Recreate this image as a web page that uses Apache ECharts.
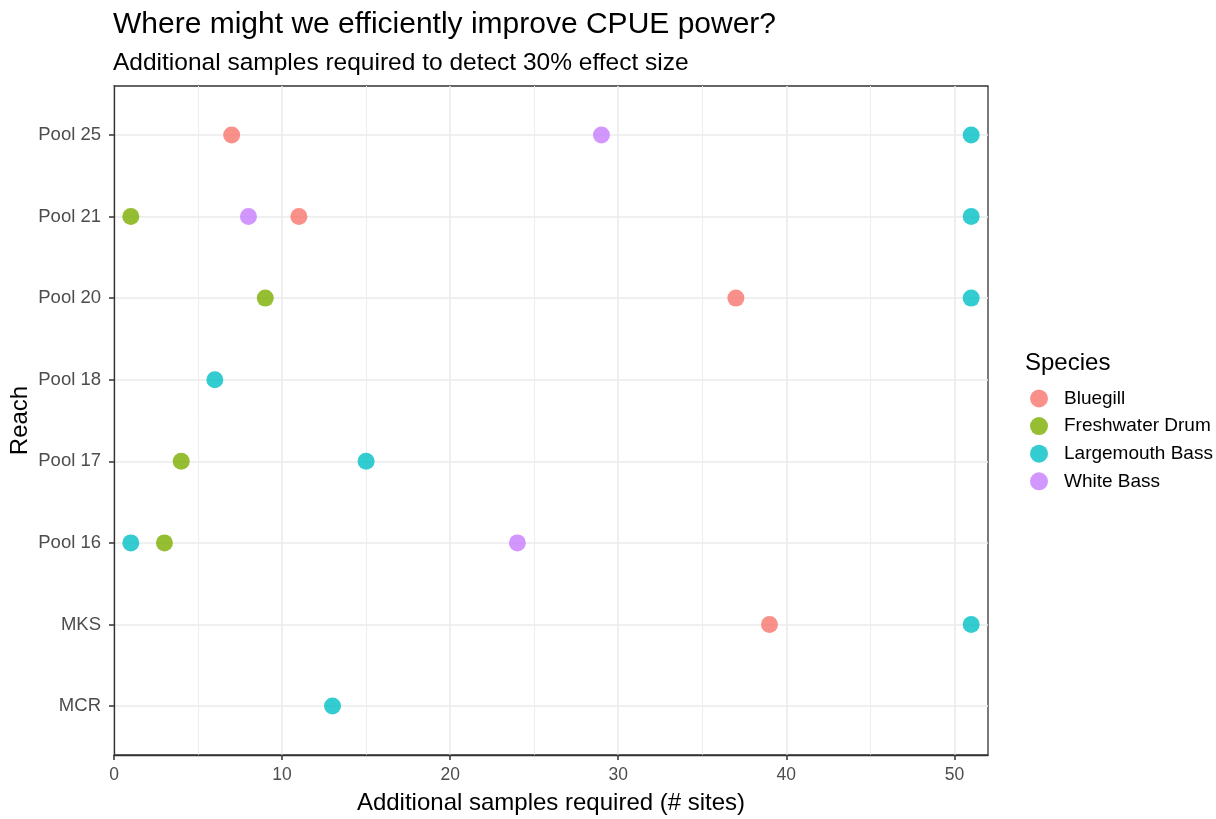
<!DOCTYPE html>
<html><head><meta charset="utf-8">
<script src="https://cdn.jsdelivr.net/npm/echarts@6/dist/echarts.min.js"></script>
<style>html,body{margin:0;padding:0;background:#fff}#c{width:1216px;height:819px}</style>
</head><body><div id="c"></div>
<script>
// Categories (bottom to top)
const reaches = ["MCR", "MKS", "Pool 16", "Pool 17", "Pool 18", "Pool 20", "Pool 21", "Pool 25"];
const species = ["Bluegill", "Freshwater Drum", "Largemouth Bass", "White Bass"];
const colors = ["#F8766D", "#7CAE00", "#00BFC4", "#C77CFF"];
// [reach, samples]
const bluegill = [["Pool 25", 7], ["Pool 21", 11], ["Pool 20", 37], ["MKS", 39]];
const freshwaterDrum = [["Pool 21", 1], ["Pool 20", 9], ["Pool 17", 4], ["Pool 16", 3]];
const largemouthBass = [["Pool 25", 51], ["Pool 21", 51], ["Pool 20", 51], ["Pool 18", 6], ["Pool 17", 15], ["Pool 16", 1], ["MKS", 51], ["MCR", 13]];
const whiteBass = [["Pool 25", 29], ["Pool 21", 8], ["Pool 16", 24]];
const xTicks = [0, 10, 20, 30, 40, 50];

const seriesData = [bluegill, freshwaterDrum, largemouthBass, whiteBass];
const yVals = reaches.map((r, i) => i + 1);
const FF = 'Liberation Sans';

const chart = echarts.init(document.getElementById('c'), null, {renderer: 'canvas'});
chart.setOption({
  backgroundColor: '#fff',
  animation: false,
  title: [
    {text: 'Where might we efficiently improve CPUE power?', left: 108, top: 5,
     textStyle: {fontFamily: FF, fontSize: 30, fontWeight: 'normal', color: '#000'}},
    {text: 'Additional samples required to detect 30% effect size', left: 108, top: 46,
     textStyle: {fontFamily: FF, fontSize: 24.5, fontWeight: 'normal', color: '#000'}},
    {text: 'Species', left: 1020, top: 346,
     textStyle: {fontFamily: FF, fontSize: 24, fontWeight: 'normal', color: '#000'}}
  ],
  legend: {
    orient: 'vertical', left: 1025, top: 384, itemWidth: 18, itemHeight: 18, itemGap: 8.6,
    icon: 'circle',
    data: species,
    itemStyle: {opacity: 0.8},
    textStyle: {fontFamily: FF, fontSize: 19, lineHeight: 18, color: '#000', padding: [0, 0, 0, 11]}
  },
  grid: {left: 114, right: 228, top: 86, bottom: 64, show: true, borderColor: '#333', borderWidth: 1.3,
         containLabel: false, outerBoundsMode: 'none'},
  xAxis: {
    type: 'value', min: 0, max: 52, interval: 10,
    name: 'Additional samples required (# sites)', nameLocation: 'middle', nameGap: 36,
    nameMoveOverlap: false,
    nameTextStyle: {fontFamily: FF, fontSize: 24, color: '#000'},
    axisLine: {show: true, lineStyle: {color: '#333', width: 1.3}},
    axisTick: {show: true, length: 5, lineStyle: {color: '#333', width: 1.5}, customValues: xTicks},
    axisLabel: {fontFamily: FF, fontSize: 17.5, color: '#4d4d4d', margin: 11, customValues: xTicks},
    splitLine: {show: true, lineStyle: {color: '#ebebeb', width: 1.6}},
    minorTick: {show: false, splitNumber: 2},
    minorSplitLine: {show: true, lineStyle: {color: '#ededed', width: 1.0}}
  },
  yAxis: {
    type: 'value', min: 0.4, max: 8.6,
    name: 'Reach', nameLocation: 'middle', nameGap: 82, nameRotate: 90,
    nameMoveOverlap: false,
    nameTextStyle: {fontFamily: FF, fontSize: 24, color: '#000'},
    axisLine: {show: true, lineStyle: {color: '#333', width: 1.3}},
    axisTick: {show: true, length: 5, lineStyle: {color: '#333', width: 1.5}, customValues: yVals},
    axisLabel: {fontFamily: FF, fontSize: 18.5, color: '#4d4d4d', margin: 13, customValues: yVals,
      formatter: v => reaches[Math.round(v) - 1] || ''},
    splitLine: {show: true, lineStyle: {color: '#ebebeb', width: 1.6}}
  },
  series: species.map((s, i) => ({
    name: s, type: 'scatter', symbol: 'circle', symbolSize: 17,
    itemStyle: {color: colors[i], opacity: 0.8},
    data: seriesData[i].map(d => [d[1], reaches.indexOf(d[0]) + 1])
  }))
});
</script></body></html>
